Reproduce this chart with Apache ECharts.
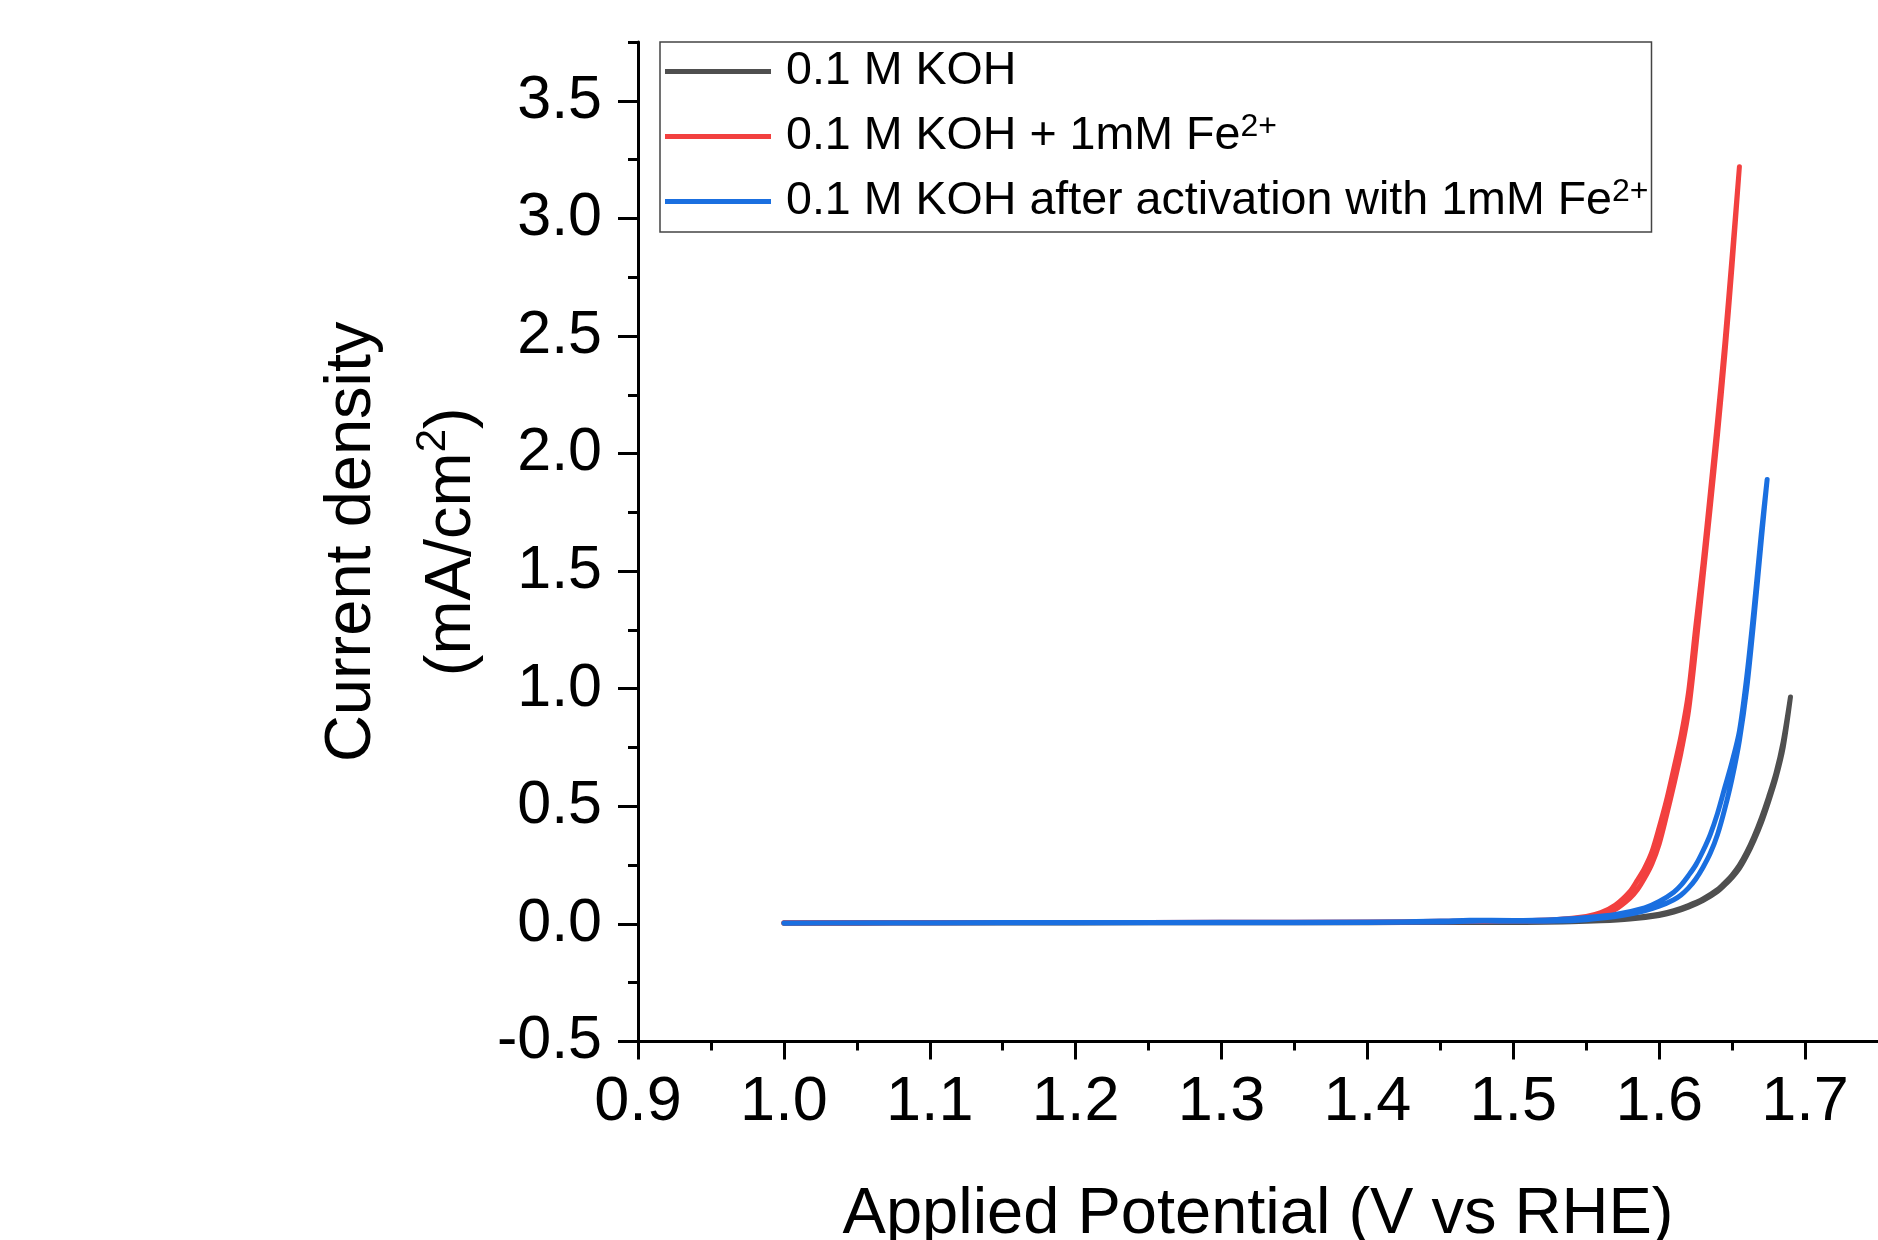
<!DOCTYPE html>
<html><head><meta charset="utf-8">
<script src="https://cdn.jsdelivr.net/npm/echarts@6/dist/echarts.min.js"></script>
<style>html,body{margin:0;padding:0;background:#fff}#c{width:1878px;height:1240px}</style>
</head><body><div id="c"></div>
<script>
// ---------- tick values ----------
const xMajorTicks = [0.9, 1.0, 1.1, 1.2, 1.3, 1.4, 1.5, 1.6, 1.7];
const xMinorTicks = [0.95, 1.05, 1.15, 1.25, 1.35, 1.45, 1.55, 1.65];
const yMajorTicks = [-0.5, 0.0, 0.5, 1.0, 1.5, 2.0, 2.5, 3.0, 3.5];
const yMinorTicks = [-0.25, 0.25, 0.75, 1.25, 1.75, 2.25, 2.75, 3.25, 3.75];

// ---------- series names ----------
const seriesNames = ['0.1 M KOH', '0.1 M KOH + 1mM Fe2+', '0.1 M KOH after activation with 1mM Fe2+'];

// ---------- 0.1 M KOH (black) ----------
const blackFwdV = [1.00,1.05,1.10,1.20,1.30,1.40,1.45,1.50,1.54,1.56,1.58,1.60,1.61,1.62,1.63,1.64,1.645,1.65,1.655,1.66,1.665,1.67,1.675,1.68,1.685,1.69];
const blackFwdJ = [0.003,0.003,0.004,0.004,0.005,0.005,0.006,0.006,0.009,0.013,0.021,0.036,0.050,0.071,0.099,0.138,0.166,0.197,0.236,0.290,0.355,0.430,0.520,0.620,0.750,0.965];
const blackRevV = [1.69,1.685,1.68,1.675,1.67,1.665,1.66,1.655,1.65,1.645,1.64,1.63,1.62,1.61,1.60,1.58,1.56,1.54,1.50,1.45,1.40,1.30,1.20,1.10,1.00];
const blackRevJ = [0.965,0.775,0.640,0.540,0.450,0.372,0.305,0.250,0.208,0.175,0.146,0.106,0.078,0.056,0.041,0.025,0.016,0.011,0.007,0.006,0.006,0.005,0.005,0.004,0.004];

// ---------- 0.1 M KOH + 1mM Fe2+ (red) ----------
const redFwdV = [1.00,1.05,1.10,1.20,1.30,1.40,1.45,1.50,1.53,1.55,1.56,1.57,1.58,1.585,1.59,1.595,1.60,1.605,1.61,1.615,1.62,1.625,1.63,1.635,1.64,1.645,1.65,1.655];
const redFwdJ = [0.004,0.004,0.005,0.006,0.006,0.007,0.009,0.011,0.014,0.025,0.037,0.062,0.110,0.145,0.195,0.255,0.340,0.460,0.590,0.730,0.900,1.170,1.470,1.770,2.080,2.420,2.800,3.220];
const redRevV = [1.655,1.65,1.645,1.64,1.635,1.63,1.625,1.62,1.615,1.61,1.605,1.60,1.595,1.59,1.585,1.58,1.57,1.56,1.55,1.53,1.50,1.45,1.40,1.30,1.20,1.10,1.00];
const redRevJ = [3.220,2.840,2.470,2.140,1.830,1.530,1.260,0.980,0.800,0.660,0.525,0.410,0.306,0.237,0.185,0.138,0.080,0.048,0.032,0.019,0.013,0.011,0.008,0.007,0.006,0.006,0.005];

// ---------- 0.1 M KOH after activation with 1mM Fe2+ (blue) ----------
const blueFwdV = [1.00,1.05,1.10,1.20,1.30,1.40,1.45,1.48,1.50,1.53,1.55,1.57,1.59,1.60,1.61,1.615,1.62,1.625,1.63,1.635,1.64,1.645,1.65,1.655,1.66,1.665,1.67,1.674];
const blueFwdJ = [0.003,0.004,0.004,0.005,0.005,0.006,0.008,0.012,0.011,0.012,0.018,0.031,0.056,0.075,0.103,0.123,0.152,0.190,0.240,0.300,0.380,0.490,0.620,0.780,1.000,1.300,1.630,1.890];
const blueRevV = [1.674,1.67,1.665,1.66,1.655,1.65,1.645,1.64,1.635,1.63,1.625,1.62,1.615,1.61,1.60,1.59,1.57,1.55,1.53,1.50,1.47,1.45,1.40,1.30,1.20,1.10,1.00];
const blueRevJ = [1.890,1.660,1.340,1.050,0.820,0.690,0.580,0.470,0.380,0.310,0.250,0.205,0.165,0.135,0.095,0.068,0.040,0.027,0.019,0.015,0.016,0.012,0.008,0.007,0.006,0.005,0.004];

const seriesColors = ['#4f4f4f', '#f2403f', '#1a6fe0'];

function loop(fv, fj, rv, rj) {
  const out = [];
  for (let i = 0; i < fv.length; i++) out.push([fv[i], fj[i]]);
  for (let i = 0; i < rv.length; i++) out.push([rv[i], rj[i]]);
  return out;
}
const seriesData = [
  loop(blackFwdV, blackFwdJ, blackRevV, blackRevJ),
  loop(redFwdV, redFwdJ, redRevV, redRevJ),
  loop(blueFwdV, blueFwdJ, blueRevV, blueRevJ)
];

const FONT = "'Liberation Sans', Arial, Helvetica, sans-serif";
const chart = echarts.init(document.getElementById('c'), null, {renderer: 'canvas'});

const option = {
  animation: false,
  backgroundColor: '#ffffff',
  grid: {left: 638, top: 42, width: 1240, height: 999.5, containLabel: false, outerBoundsMode: 'none'},
  legend: {
    orient: 'vertical', left: 660, top: 42,
    icon: 'rect',
    itemWidth: 106, itemHeight: 5, itemGap: 16.5,
    padding: [6, 3, 7, 5],
    borderColor: '#444', borderWidth: 1.5, backgroundColor: '#fff',
    data: seriesNames,
    formatter: function (name) {
      if (name.endsWith('Fe2+')) return '{t|' + name.slice(0, -2) + '}{s|2+}';
      return '{t|' + name + '}';
    },
    textStyle: {
      padding: [0, 0, 0, 10],
      rich: {
        t: {fontSize: 46.6, lineHeight: 50, fontFamily: FONT, color: '#000'},
        s: {fontSize: 32, lineHeight: 32, verticalAlign: 'top', fontFamily: FONT, color: '#000'}
      }
    }
  },
  xAxis: [
    {
      type: 'value', min: 0.9, max: 1.75, interval: 0.1, position: 'bottom',
      axisLine: {show: true, onZero: false, lineStyle: {color: '#000', width: 3}},
      axisTick: {show: true, inside: false, length: 18, customValues: xMajorTicks, lineStyle: {color: '#000', width: 3}},
      axisLabel: {customValues: xMajorTicks, formatter: v => Number(v).toFixed(1), fontSize: 63, margin: 30, color: '#000', fontFamily: FONT},
      splitLine: {show: false},
      name: 'Applied Potential (V vs RHE)', nameLocation: 'middle', nameGap: 141,
      nameTextStyle: {fontSize: 65, lineHeight: 65, color: '#000', fontFamily: FONT}
    },
    {
      type: 'value', min: 0.9, max: 1.75, interval: 0.1, position: 'bottom',
      axisLine: {show: false, onZero: false},
      axisTick: {show: true, inside: false, length: 9, customValues: xMinorTicks, lineStyle: {color: '#000', width: 3}},
      axisLabel: {show: false},
      splitLine: {show: false}
    }
  ],
  yAxis: [
    {
      type: 'value', min: -0.5, max: 3.75, interval: 0.5, position: 'left',
      axisLine: {show: true, onZero: false, lineStyle: {color: '#000', width: 3}},
      axisTick: {show: true, inside: false, length: 20, customValues: yMajorTicks, lineStyle: {color: '#000', width: 3}},
      axisLabel: {customValues: yMajorTicks, formatter: v => Number(v).toFixed(1), fontSize: 61, margin: 36, color: '#000', fontFamily: FONT},
      splitLine: {show: false},
      name: '{a|Current density}\n{a|(mA/cm}{s|2}{a|)}',
      nameLocation: 'middle', nameRotate: 90, nameGap: 136,
      nameTextStyle: {
        rich: {
          a: {fontSize: 65, lineHeight: 100, color: '#000', fontFamily: FONT},
          s: {fontSize: 42, lineHeight: 42, verticalAlign: 'top', padding: [10, 0, 0, 0], color: '#000', fontFamily: FONT}
        }
      }
    },
    {
      type: 'value', min: -0.5, max: 3.75, interval: 0.5, position: 'left',
      axisLine: {show: false, onZero: false},
      axisTick: {show: true, inside: false, length: 10, customValues: yMinorTicks, lineStyle: {color: '#000', width: 3}},
      axisLabel: {show: false},
      splitLine: {show: false}
    }
  ],
  series: seriesNames.map((n, i) => ({
    name: n, type: 'line', xAxisIndex: 0, yAxisIndex: 0,
    data: seriesData[i], symbol: 'none', showSymbol: false, smooth: 0.3,
    color: seriesColors[i],
    lineStyle: {width: 5, color: seriesColors[i], cap: 'round', join: 'round'},
    z: 2 + i
  }))
};
chart.setOption(option);
</script>
</body></html>
